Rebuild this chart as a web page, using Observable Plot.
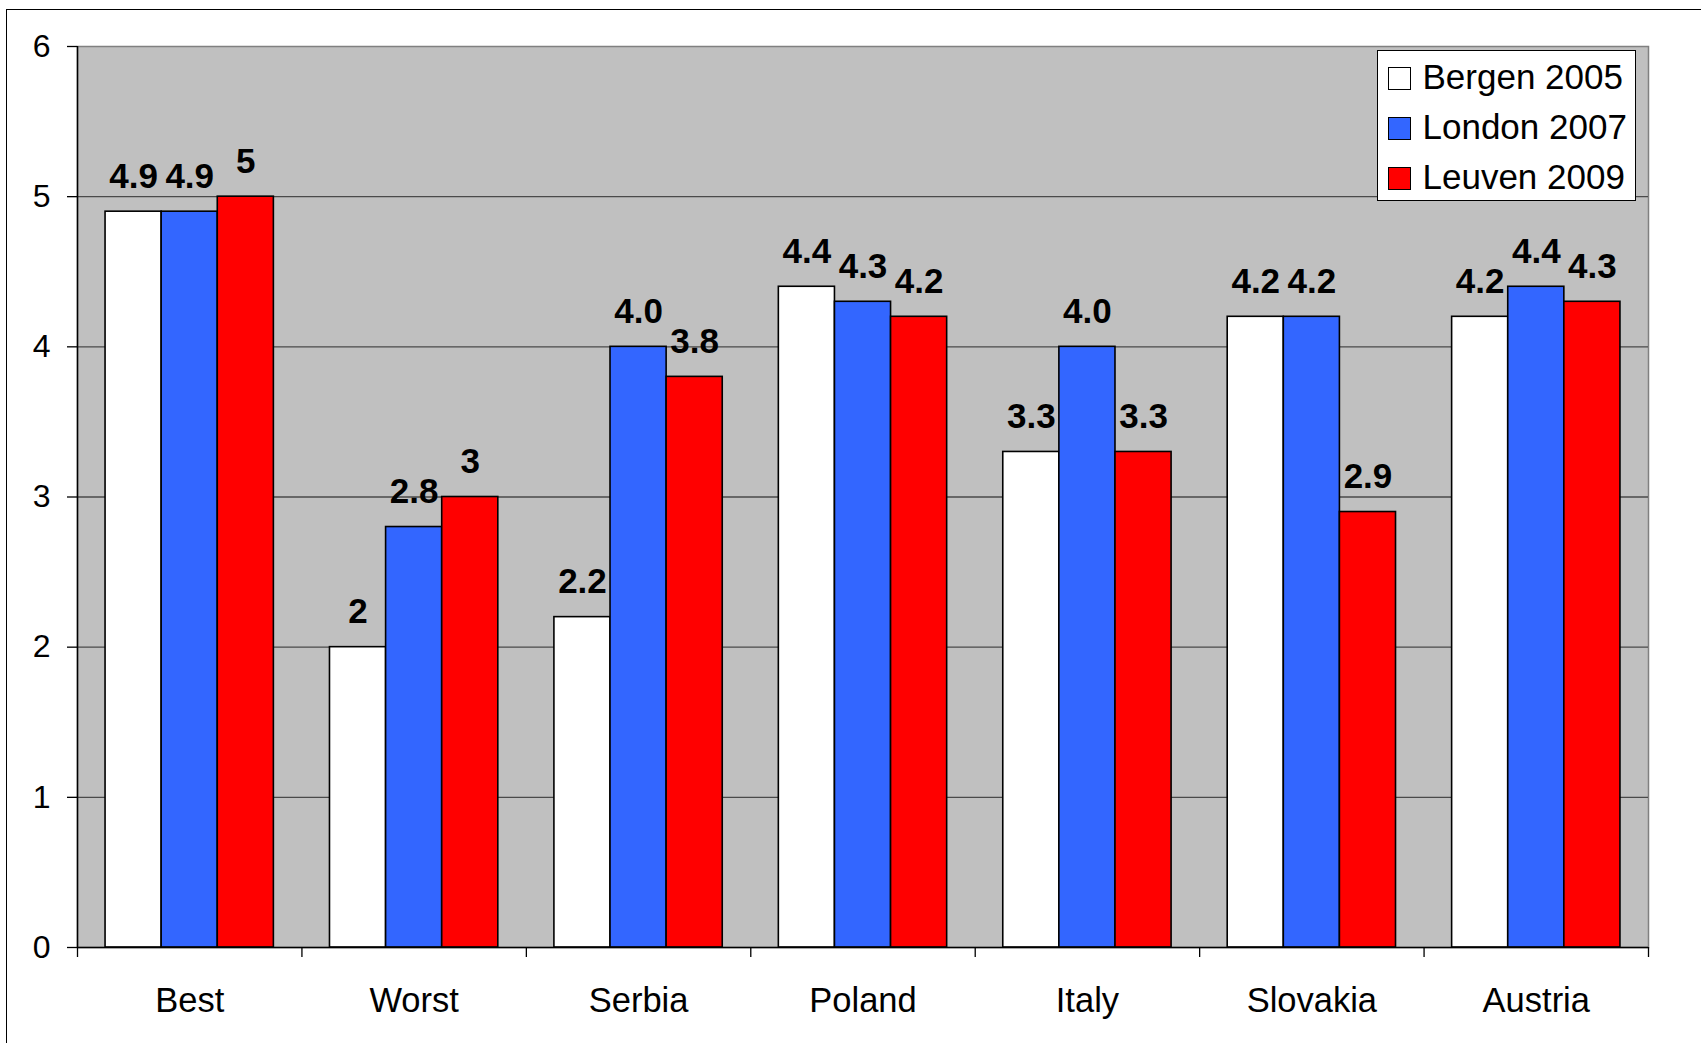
<!DOCTYPE html>
<html>
<head>
<meta charset="utf-8">
<script src="https://cdn.jsdelivr.net/npm/d3@7"></script>
<script src="https://cdn.jsdelivr.net/npm/@observablehq/plot@0.6"></script>
<style>
  html, body { margin: 0; padding: 0; background: #fff; }
  body { font-family: "Liberation Sans", Arial, sans-serif; }
  #wrap { position: relative; width: 1701px; height: 1043px; overflow: hidden; }
  #border { position: absolute; left: 6px; top: 9px; width: 1800px; height: 1200px; border: 1.5px solid #000; }
  #chart { position: absolute; left: 0; top: 0; }
  #legend { position: absolute; left: 1377px; top: 50px; width: 259px; height: 151px; box-sizing: border-box;
            border: 1.5px solid #000; background: #fff; }
  .row { position: absolute; left: 0; height: 35px; font-size: 35px; line-height: 35px; color: #000; white-space: nowrap; }
  .sw { position: absolute; left: 9.5px; top: 7.5px; width: 21px; height: 21px; border: 1.5px solid #000; }
  .lt { position: absolute; left: 44.5px; top: 0; }
</style>
</head>
<body>
<div id="wrap">
  <div id="border"></div>
  <div id="chart"></div>
  <div id="legend"></div>
</div>
<script>
const categories = ["Best", "Worst", "Serbia", "Poland", "Italy", "Slovakia", "Austria"];
const seriesNames = ["Bergen 2005", "London 2007", "Leuven 2009"];
const seriesColors = ["#ffffff", "#3366ff", "#ff0000"];

const bergen2005 = [4.9, 2, 2.2, 4.4, 3.3, 4.2, 4.2];
const london2007 = [4.9, 2.8, 4.0, 4.3, 4.0, 4.2, 4.4];
const leuven2009 = [5, 3, 3.8, 4.2, 3.3, 2.9, 4.3];

const bergenLabels = ["4.9", "2", "2.2", "4.4", "3.3", "4.2", "4.2"];
const londonLabels = ["4.9", "2.8", "4.0", "4.3", "4.0", "4.2", "4.4"];
const leuvenLabels = ["5", "3", "3.8", "4.2", "3.3", "2.9", "4.3"];

const yTicks = [0, 1, 2, 3, 4, 5, 6];

const seriesValues = [bergen2005, london2007, leuven2009];
const seriesLabels = [bergenLabels, londonLabels, leuvenLabels];

const rows = [];
seriesValues.forEach((vals, s) => {
  vals.forEach((v, i) => {
    rows.push({ cat: categories[i], ci: i, s, series: seriesNames[s], value: v, label: seriesLabels[s][i] });
  });
});

// group layout within each category band (band width = 1 unit on the x scale)
const groupPad = 0.125, barW = 0.25;
const x1 = d => d.ci + groupPad + d.s * barW;
const x2 = d => d.ci + groupPad + (d.s + 1) * barW;
const xc = d => d.ci + groupPad + (d.s + 0.5) * barW;

const boundaries = d3.range(categories.length + 1);
const centers = categories.map((c, i) => i + 0.5);

const chart = Plot.plot({
  width: 1701,
  height: 1043,
  marginLeft: 77,
  marginRight: 53,
  marginTop: 46,
  marginBottom: 96,
  style: { fontFamily: "'Liberation Sans', Arial, sans-serif", background: "transparent", color: "#000" },
  x: { domain: [0, categories.length] },
  y: { domain: [0, 6] },
  color: { domain: seriesNames, range: seriesColors },
  marks: [
    Plot.frame({ fill: "#c0c0c0", stroke: "#808080", strokeWidth: 1.5 }),
    Plot.ruleY(yTicks.slice(1, -1), { stroke: "#4a4a4a", strokeWidth: 1.3 }),
    Plot.rectY(rows, { x1, x2, y1: 0, y2: "value", fill: "series", stroke: "#000", strokeWidth: 1.6 }),
    Plot.text(rows, { x: xc, y: "value", text: "label", dy: -24, lineAnchor: "bottom",
                      fontWeight: "bold", fontSize: 35, fill: "#000" }),
    Plot.ruleX([0], { stroke: "#000", strokeWidth: 1.5 }),
    Plot.ruleY([0], { stroke: "#000", strokeWidth: 1.5 }),
    Plot.axisY({ ticks: yTicks, tickFormat: d => String(d), tickSize: 10, tickPadding: 17, fontSize: 32,
                 stroke: "#000", strokeWidth: 1.3, label: null, fill: "#000" }),
    Plot.axisX({ ticks: boundaries, tickSize: 10, tickFormat: () => "", stroke: "#000", strokeWidth: 1.3, label: null }),
    Plot.axisX({ ticks: centers, tickSize: 0, tickPadding: 40, fontSize: 34.5, fill: "#000",
                 tickFormat: d => categories[Math.floor(d)], label: null })
  ]
});
document.getElementById("chart").appendChild(chart);

// legend
const legend = document.getElementById("legend");
seriesNames.forEach((name, i) => {
  const row = document.createElement("div");
  row.className = "row";
  row.style.top = (8 + i * 50) + "px";
  const sw = document.createElement("div");
  sw.className = "sw";
  sw.style.background = seriesColors[i];
  const t = document.createElement("span");
  t.className = "lt";
  t.textContent = name;
  row.appendChild(sw);
  row.appendChild(t);
  legend.appendChild(row);
});
</script>
</body>
</html>
